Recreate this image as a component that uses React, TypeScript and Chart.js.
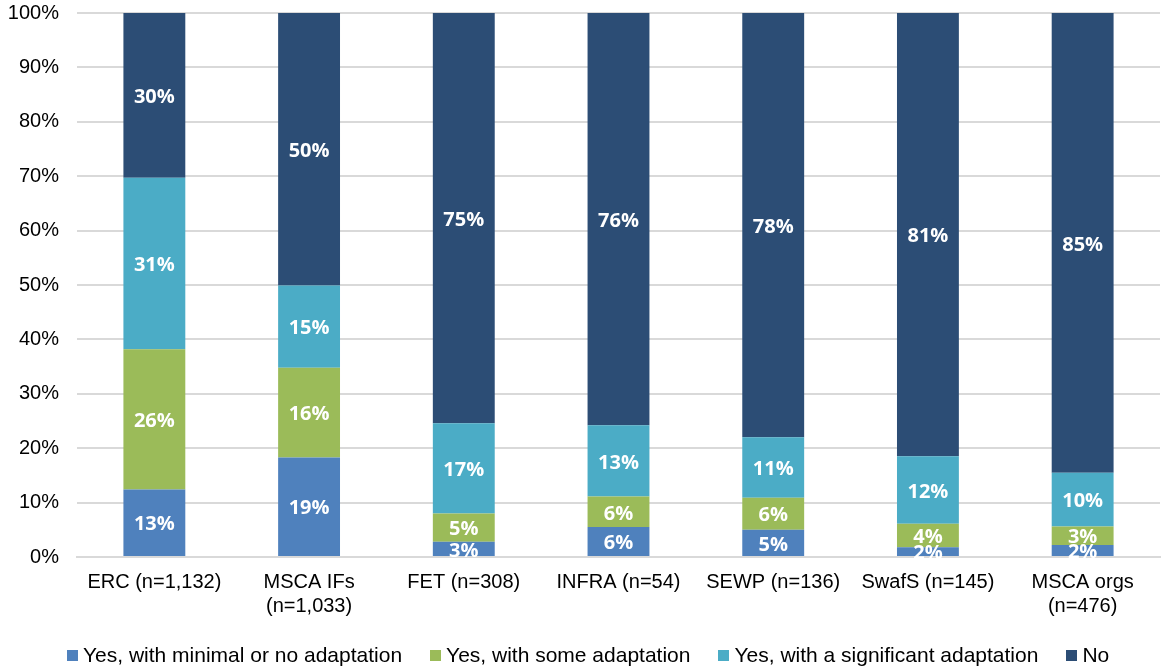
import { useEffect, useRef } from "react";
import { Chart, registerables } from "chart.js";

Chart.register(...registerables);

const categories: (string | string[])[] = [
  "ERC (n=1,132)",
  ["MSCA IFs", "(n=1,033)"],
  "FET (n=308)",
  "INFRA (n=54)",
  "SEWP (n=136)",
  "SwafS (n=145)",
  ["MSCA orgs", "(n=476)"],
];

const seriesNames = [
  "Yes, with minimal or no adaptation",
  "Yes, with some adaptation",
  "Yes, with a significant adaptation",
  "No",
];

const minimalValues = [12.4, 18.3, 2.8, 5.5, 5.0, 1.8, 2.2];
const someValues = [25.8, 16.5, 5.2, 5.6, 5.9, 4.3, 3.4];
const significantValues = [31.5, 15.1, 16.6, 13.1, 11.1, 12.4, 9.9];
const noValues = [30.3, 50.1, 75.4, 75.8, 78.0, 81.5, 84.5];

const minimalLabels = ["13%", "19%", "3%", "6%", "5%", "2%", "2%"];
const someLabels = ["26%", "16%", "5%", "6%", "6%", "4%", "3%"];
const significantLabels = ["31%", "15%", "17%", "13%", "11%", "12%", "10%"];
const noLabels = ["30%", "50%", "75%", "76%", "78%", "81%", "85%"];

const yTicks = [0, 10, 20, 30, 40, 50, 60, 70, 80, 90, 100];

const colors = ["#4F81BD", "#9BBB59", "#4BACC6", "#2C4D75"];

const seriesValues = [minimalValues, someValues, significantValues, noValues];
const seriesLabels = [minimalLabels, someLabels, significantLabels, noLabels];

const AXIS_FONT = "'Liberation Sans', Arial, sans-serif";
const LABEL_FONT = "'Open Sans', 'Noto Sans', sans-serif";

const dataLabelPlugin = {
  id: "segLabels",
  afterDatasetsDraw(chart: any) {
    const ctx = chart.ctx;
    ctx.save();
    ctx.fillStyle = "#ffffff";
    ctx.font = `bold 20px ${LABEL_FONT}`;
    ctx.textAlign = "center";
    ctx.textBaseline = "middle";
    chart.data.datasets.forEach((ds: any, di: number) => {
      const meta = chart.getDatasetMeta(di);
      meta.data.forEach((bar: any, i: number) => {
        const txt = seriesLabels[di][i];
        const cy = (bar.y + bar.base) / 2;
        ctx.fillText(txt, bar.x, cy + 2);
      });
    });
    ctx.restore();
  },
};

export default function App() {
  const ref = useRef<HTMLCanvasElement | null>(null);

  useEffect(() => {
    if (!ref.current) return;
    const chart = new Chart(ref.current, {
      type: "bar",
      data: {
        labels: categories,
        datasets: seriesNames.map((name, k) => ({
          label: name,
          data: seriesValues[k],
          backgroundColor: colors[k],
          borderWidth: 0,
          barPercentage: 0.4,
          categoryPercentage: 1,
        })),
      },
      options: {
        responsive: false,
        animation: false,
        layout: { padding: { left: 0, right: 1, top: 13, bottom: 0 } },
        plugins: {
          legend: { display: false },
          tooltip: { enabled: false },
        },
        scales: {
          x: {
            stacked: true,
            grid: { display: false, drawTicks: false },
            border: { display: true, color: "#d9d9d9", width: 2 },
            ticks: {
              font: { family: AXIS_FONT, size: 20 },
              color: "#000000",
              padding: 13,
              maxRotation: 0,
              autoSkip: false,
            },
            afterFit: (axis: any) => {
              axis.height = 111;
              axis.paddingLeft = 0;
              axis.paddingRight = 0;
            },
          },
          y: {
            stacked: true,
            min: 0,
            max: 100,
            afterBuildTicks: (axis: any) => {
              axis.ticks = yTicks.map((v) => ({ value: v }));
            },
            afterFit: (axis: any) => {
              axis.width = 77;
              axis.paddingTop = 0;
              axis.paddingBottom = 0;
            },
            grid: { color: "#d9d9d9", lineWidth: 2, drawTicks: false },
            border: { display: false },
            ticks: {
              font: { family: AXIS_FONT, size: 20 },
              color: "#000000",
              padding: 18,
              callback: (v: any) => `${v}%`,
            },
          },
        },
      },
      plugins: [dataLabelPlugin],
    });
    return () => chart.destroy();
  }, []);

  return (
    <div style={{ position: "fixed", left: 0, top: 0, width: 1161, height: 668, background: "#fff" }}>
      <canvas ref={ref} width={1161} height={668} style={{ display: "block" }} />
      <div
        style={{
          position: "absolute",
          left: 67,
          top: 643,
          display: "flex",
          alignItems: "center",
          fontFamily: AXIS_FONT,
          fontSize: 21,
          lineHeight: "24px",
          color: "#000",
          whiteSpace: "nowrap",
        }}
      >
        {seriesNames.map((name, k) => (
          <div key={name} style={{ display: "flex", alignItems: "center", marginRight: 28 }}>
            <span style={{ display: "inline-block", width: 11, height: 11, background: colors[k], marginRight: 5 }} />
            <span>{name}</span>
          </div>
        ))}
      </div>
    </div>
  );
}
